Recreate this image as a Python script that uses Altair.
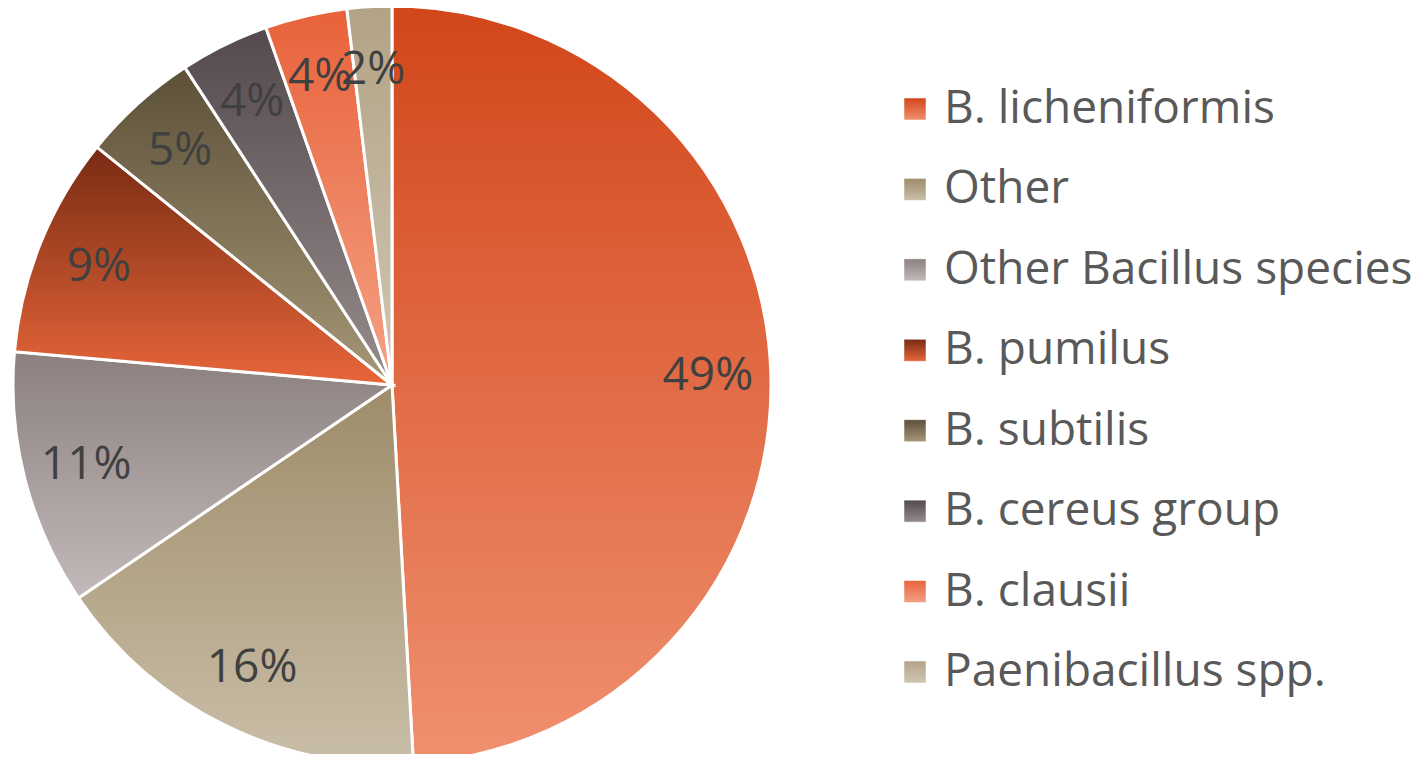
import altair as alt
import pandas as pd

names = ["B. licheniformis", "Other", "Other Bacillus species", "B. pumilus",
         "B. subtilis", "B. cereus group", "B. clausii", "Paenibacillus spp."]
values = [49.1, 16.4, 10.9, 9.4, 5.0, 3.8, 3.5, 1.9]
labels = ["49%", "16%", "11%", "9%", "5%", "4%", "4%", "2%"]
top_colors = ["#D2461A", "#9E8C69", "#8B807F", "#772B12", "#5C5039", "#544A4D", "#E8623A", "#B3A385"]
bottom_colors = ["#F0906F", "#C9BEA8", "#C2B9BA", "#E8663A", "#A59776", "#978C8C", "#F4A185", "#CFC6B4"]

df = pd.DataFrame({"name": names, "value": values, "label": labels})
df["end"] = df["value"].cumsum()
df["start"] = df["end"] - df["value"]
df["mid"] = (df["start"] + df["end"]) / 2

CX, CY, R = 384, 377, 379
theta_scale = alt.Scale(domain=[0, sum(values)])
legend_y = alt.Y("name:N", sort=names, axis=None,
                 scale=alt.Scale(type="point", domain=names, range=[101, 664], padding=0))

layers = []
for i, n in enumerate(names):
    grad = alt.Gradient(gradient="linear",
                        stops=[alt.GradientStop(color=top_colors[i], offset=0),
                               alt.GradientStop(color=bottom_colors[i], offset=1)],
                        x1=0, x2=0, y1=0, y2=1)
    sub = alt.Chart(df).transform_filter(alt.datum.name == n)
    layers.append(
        sub.mark_arc(outerRadius=R, fill=grad, stroke="white", strokeWidth=3).encode(
            theta=alt.Theta("start:Q", scale=theta_scale),
            theta2="end:Q",
            x=alt.value(CX), y=alt.value(CY),
        )
    )
    layers.append(
        sub.mark_square(size=484, fill=grad, opacity=1, stroke="white", strokeWidth=0.5).encode(
            x=alt.value(907),
            y=legend_y,
        )
    )

pct = alt.Chart(df).mark_text(radius=316, font="Open Sans", fontSize=46,
                              color="#404040", align="center", baseline="middle").encode(
    theta=alt.Theta("mid:Q", scale=theta_scale),
    x=alt.value(CX), y=alt.value(CY),
    text="label:N",
)

legend_text = alt.Chart(df).mark_text(font="Open Sans", fontSize=46, color="#595959",
                                      align="left", baseline="middle").encode(
    x=alt.value(936),
    y=legend_y,
    text="name:N",
)

chart = alt.layer(*layers, pct, legend_text).properties(
    width=1406, height=746, padding=0, autosize=alt.AutoSizeParams(type="none")
).configure_view(stroke=None)

chart.save("out.html", embed_options={"renderer": "svg", "actions": False})
